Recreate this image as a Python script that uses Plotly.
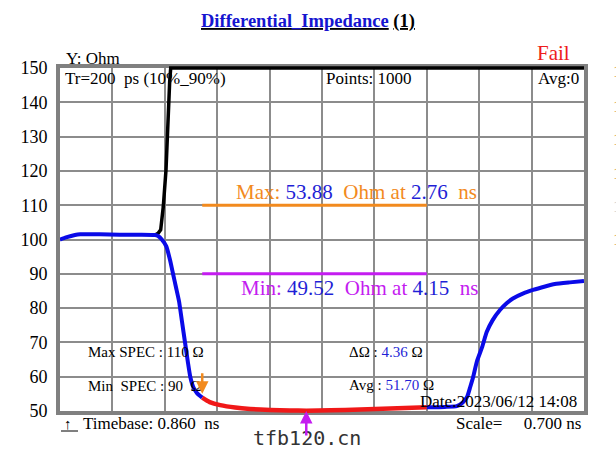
import plotly.graph_objects as go

# ---------------- data ----------------
t_start = 0.86          # Timebase (ns)
t_scale = 0.70          # ns per division
n_div = 10
y_min, y_max, y_step = 50, 150, 10

blue1_t = [0.86, 0.94, 1.06, 1.13, 1.39, 1.66, 1.93, 2.13, 2.17, 2.22, 2.28, 2.33,
           2.37, 2.41, 2.45, 2.49, 2.53, 2.57, 2.60, 2.64, 2.69, 2.76]
blue1_v = [100.0, 100.6, 101.3, 101.5, 101.5, 101.4, 101.4, 101.3, 101.0, 100.0, 98.0, 94.0,
           90.0, 86.0, 82.0, 76.0, 70.0, 64.0, 60.0, 57.0, 55.2, 53.9]

red_t = [2.76, 2.86, 3.00, 3.20, 3.40, 3.67, 3.93, 4.15, 4.47, 4.87, 5.27, 5.76]
red_v = [53.9, 52.6, 51.7, 51.0, 50.6, 50.3, 50.15, 50.1, 50.2, 50.45, 50.75, 51.1]

blue2_t = [5.76, 6.00, 6.16, 6.24, 6.30, 6.34, 6.38, 6.43, 6.50, 6.56, 6.64, 6.74,
           6.83, 6.91, 7.05, 7.18, 7.34, 7.47, 7.67, 7.86]
blue2_v = [51.1, 51.2, 51.4, 52.5, 54.2, 57.0, 60.0, 64.5, 68.7, 73.0, 76.5, 79.5,
           81.5, 82.8, 84.3, 85.3, 86.3, 87.0, 87.5, 87.9]

black_t = [2.13, 2.17, 2.205, 2.24, 2.276, 2.293, 2.307, 2.325, 2.339, 7.86]
black_v = [101.3, 101.8, 102.8, 109.6, 120.3, 130.8, 139.8, 146.0, 150.0, 150.0]

spec_t = [2.76, 5.76]
max_spec = 110
min_spec = 90

max_val, max_at = 53.88, 2.76
min_val, min_at = 49.52, 4.15
delta_val, avg_val = 4.36, 51.70

# ---------------- figure ----------------
W, H = 616, 462
L, R = 60, 32
T0, B0 = 68, 51          # visible frame margins
PAD = 4                  # extra room so edge lines are not clipped
T, B = T0 - PAD, B0 - PAD
PW, PH = W - L - R, H - T - B
frame_h = H - T0 - B0

def px(x):
    return (x - L) / PW

def py(y):
    return (H - B - y) / PH

SERIF = "Liberation Serif"
ORANGE = "#f28a1e"
MAGENTA = "#c41cf0"
BLUE_T = "#1f1fd6"
BLUE = "#0a0ae8"
RED = "#f01818"

fig = go.Figure()
fig.add_trace(go.Scatter(x=spec_t, y=[max_spec] * 2, mode="lines", hoverinfo="skip",
                         line=dict(color=ORANGE, width=3)))
fig.add_trace(go.Scatter(x=spec_t, y=[min_spec] * 2, mode="lines", hoverinfo="skip",
                         line=dict(color=MAGENTA, width=3)))
common = dict(xaxis="x2", yaxis="y2", mode="lines", hoverinfo="skip")
fig.add_trace(go.Scatter(x=black_t, y=black_v, line=dict(color="black", width=3.5), **common))
fig.add_trace(go.Scatter(x=blue1_t, y=blue1_v,
                         line=dict(color=BLUE, width=4, shape="spline", smoothing=0.5), **common))
fig.add_trace(go.Scatter(x=red_t, y=red_v,
                         line=dict(color=RED, width=4.5, shape="spline", smoothing=0.5), **common))
fig.add_trace(go.Scatter(x=blue2_t, y=blue2_v,
                         line=dict(color=BLUE, width=4, shape="spline", smoothing=0.5), **common))

t_end = t_start + n_div * t_scale
pad_v = PAD * (y_max - y_min) / frame_h
dom_lo = PAD / PH
dom_hi = 1 - PAD / PH

fig.update_layout(
    xaxis=dict(range=[t_start, t_end], tick0=t_start, dtick=t_scale, domain=[0, 1],
               showticklabels=False, ticks="", showgrid=True,
               gridcolor="#8c8c8c", gridwidth=1.5, zeroline=False,
               showline=True, linecolor="#808080", linewidth=4, mirror=True,
               anchor="y"),
    yaxis=dict(range=[y_min, y_max], tick0=y_min, dtick=y_step, domain=[dom_lo, dom_hi],
               tickfont=dict(family=SERIF, size=18, color="black"),
               ticks="", showgrid=True, gridcolor="#8c8c8c", gridwidth=1.5,
               zeroline=False, showline=True, linecolor="#808080", linewidth=4,
               mirror=True, ticklabelstandoff=5, anchor="x"),
    xaxis2=dict(range=[t_start, t_end], domain=[0, 1], visible=False, anchor="y2"),
    yaxis2=dict(range=[y_min - pad_v, y_max + pad_v], domain=[0, 1], visible=False,
                anchor="x2"),
)

sp = "\u00a0"
ann = []

def txt(x, y, text, size=15, color="black", xanchor="left", family=SERIF):
    ann.append(dict(x=px(x), y=py(y), xref="paper", yref="paper", text=text,
                    showarrow=False, xanchor=xanchor, yanchor="middle",
                    font=dict(family=family, size=size, color=color)))

def c(text, color):
    return f"<span style='color:{color}'>{text}</span>"

txt(308, 22, "<b><u>" + c("Differential_Impedance", "#1515d0") + "</u> <u>(1)</u></b>",
    size=18.5, xanchor="center")
txt(64, 58, "Y: Ohm", size=17)
txt(553, 53, "Fail", size=21, color="#ee1c1c", xanchor="center")
txt(63, 79, f"Tr=200{sp}{sp}ps (10%_90%)", size=17)
txt(324, 79, "Points: 1000", size=17)
txt(581, 79, "Avg:0", size=17, xanchor="right")

txt(234, 192, c("Max: ", ORANGE) + c(f"{max_val:.2f}", BLUE_T) + c(f"{sp}{sp}Ohm at ", ORANGE)
    + c(f"{max_at:.2f}", BLUE_T) + c(f"{sp}{sp}ns", ORANGE), size=21)
txt(239, 288, c("Min: ", MAGENTA) + c(f"{min_val:.2f}", BLUE_T) + c(f"{sp}{sp}Ohm at ", MAGENTA)
    + c(f"{min_at:.2f}", BLUE_T) + c(f"{sp}{sp}ns", MAGENTA), size=21)

txt(86, 352, f"Max SPEC : {max_spec} Ω", size=15)
txt(86, 386, f"Min{sp}{sp}SPEC : {min_spec}{sp}{sp}Ω", size=15)
txt(347, 352, "ΔΩ : " + c(f"{delta_val:.2f}", BLUE_T) + " Ω", size=15)
txt(347, 385, "Avg : " + c(f"{avg_val:.2f}", BLUE_T) + " Ω", size=15)
txt(579, 401, "Date:2023/06/12 14:08", size=17, xanchor="right")
txt(81, 423, f"Timebase: {t_start:.3f}{sp}{sp}ns", size=17)
txt(62, 424, "↑", size=15)
txt(583, 423, f"Scale={sp}{sp}{sp}{sp}{sp}{t_scale:.3f} ns", size=17, xanchor="right")
txt(307, 438, "tfb120.cn", size=20, color="#333333", xanchor="center",
    family="DejaVu Sans Mono")

# clipped legend glyphs at the right page edge
for yy, col in [(72, "#d9a04a"), (106, "#d9a04a"), (139, "#d9a04a"),
                (173, "#d9a04a"), (206, "#c8c8c8"), (240, "#d9a04a")]:
    txt(611, yy, "1", size=17, color=col)

# marker arrows
ann.append(dict(x=max_at, y=55, xref="x2", yref="y2", ax=0, ay=-22, text="",
                showarrow=True, arrowhead=2, arrowsize=1, arrowwidth=2.5,
                arrowcolor=ORANGE))
ann.append(dict(x=min_at, y=y_min, xref="x2", yref="y2", ax=0, ay=26, text="",
                showarrow=True, arrowhead=2, arrowsize=1, arrowwidth=2.5,
                arrowcolor=MAGENTA))

fig.update_layout(
    width=W, height=H, margin=dict(l=L, r=R, t=T, b=B),
    paper_bgcolor="white", plot_bgcolor="rgba(0,0,0,0)", showlegend=False,
    annotations=ann,
    shapes=[dict(type="line", xref="paper", yref="paper",
                 x0=px(61), x1=px(78), y0=py(431), y1=py(431),
                 line=dict(color="black", width=1))],
)

fig.write_html("out.html")
